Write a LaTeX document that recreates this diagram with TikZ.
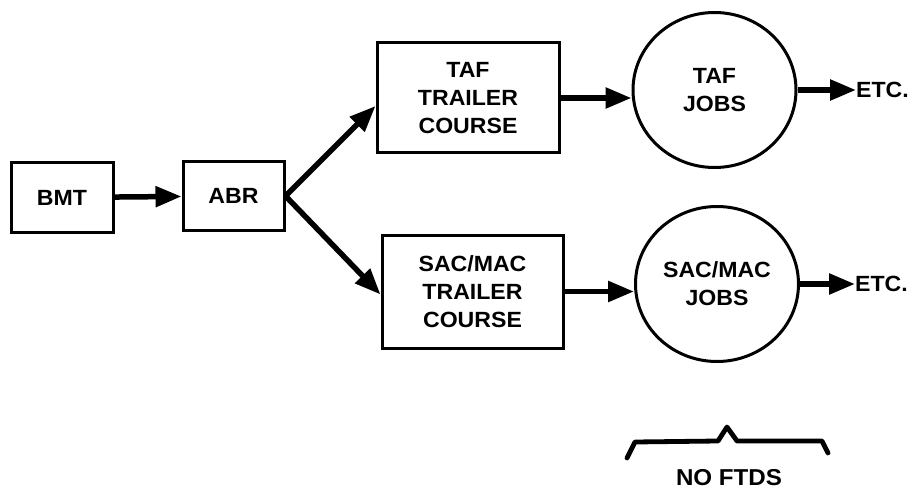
\documentclass[tikz,border=0pt]{standalone}
\usepackage{fontspec}
\setmainfont{Liberation Sans}[FakeStretch=1.05]
\usetikzlibrary{arrows.meta,shapes.geometric}
\begin{document}
\begin{tikzpicture}[x=1pt,y=-1pt,
  lbl/.style={font=\fontsize{22}{28}\selectfont\bfseries, align=center, inner sep=0pt},
  box/.style={lbl, draw, line width=3pt, rectangle},
  jobs/.style={lbl, draw, line width=3pt, ellipse, minimum width=163pt, minimum height=155pt},
  arr/.style={line width=5.5pt, -{Triangle[length=26pt,width=20pt]}},
  brace/.style={line width=4.8pt, line join=round, line cap=round}
]
\useasboundingbox (0,0) rectangle (921,492);

% training pipeline boxes
\node[box, minimum width=102pt, minimum height=69pt] (bmt) at (62,197.5) {BMT};
\node[box, minimum width=101pt, minimum height=68pt] (abr) at (233.5,196) {ABR};
\node[box, minimum width=182pt, minimum height=110pt] (taf) at (468,98) {TAF\\TRAILER\\COURSE};
\node[box, minimum width=181pt, minimum height=113pt] (sac) at (472.5,291.5) {SAC/MAC\\TRAILER\\COURSE};

% job pools
\node[jobs] (tafjobs) at (714.5,90) {TAF\\JOBS};
\node[jobs] (sacjobs) at (717,284) {SAC/MAC\\JOBS};
\node[lbl, anchor=west] (etc1) at (856,90) {ETC.};
\node[lbl, anchor=west] (etc2) at (855,284) {ETC.};

% flow arrows
\draw[arr] (bmt) -- (abr);
\draw[arr] (abr.east) -- ([yshift=-8pt]taf.west);
\draw[arr] (abr.east) -- ([yshift=-3pt]sac.west);
\draw[arr] (taf.east) -- (taf.east -| tafjobs.west);
\draw[arr] (sac.east) -- (sac.east -| sacjobs.west);
\draw[arr] (tafjobs.east) -- (etc1.west);
\draw[arr] (sacjobs.east) -- (etc2.west);

% brace under the job pools
\coordinate (bl) at (627,458);
\coordinate (br) at (828,453);
\draw[brace] (bl) -- (635,442) -- (718,441) -- (727,427) -- (737,441) -- (822,441) -- (br);
\node[lbl, font=\fontsize{23}{28}\selectfont\bfseries] (noftds) at (729,478) {NO FTDS};
\end{tikzpicture}
\end{document}
